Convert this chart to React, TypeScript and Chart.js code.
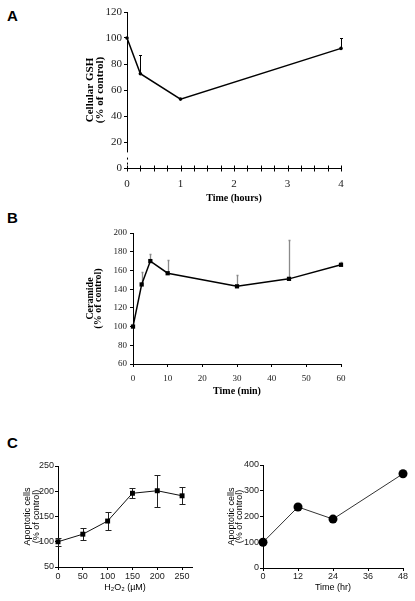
import React, { useEffect, useRef } from 'react';
import { Chart, registerables } from 'chart.js';

Chart.register(...registerables);

const SERIF = "'Liberation Serif', 'Times New Roman', Times, serif";
const SANS = "'Liberation Sans', Arial, Helvetica, sans-serif";

// ---------- Panel A: cellular GSH vs time (hours)
const aTimeHours = [0, 0.25, 1, 4];
const aGSHPercent = [100, 72.5, 53, 92];
const aGSHErrUp = [0, 14.5, 0, 8];
const aXTickValues = [0, 0.25, 0.5, 0.75, 1, 1.25, 1.5, 1.75, 2, 2.25, 2.5, 2.75, 3, 3.25, 3.5, 3.75, 4];
const aYTickValues = [0, 20, 40, 60, 80, 100, 120];

// ---------- Panel B: ceramide vs time (min)
const bTimeMin = [0, 2.5, 5, 10, 30, 45, 60];
const bCeramidePercent = [100, 145, 170, 157, 143, 151, 166];
const bCeramideErrUp = [0, 13.5, 8, 14, 12, 42, 3];
const bXTickValues = [0, 10, 20, 30, 40, 50, 60];
const bYTickValues = [60, 80, 100, 120, 140, 160, 180, 200];

// ---------- Panel C (left): apoptotic cells vs H2O2 dose
const cDoseMicroM = [0, 50, 100, 150, 200, 250];
const cDoseApoptotic = [100, 115, 141, 196, 201, 191];
const cDoseErr = [8, 12.5, 18, 10, 32, 17];
const cDoseXTicks = [0, 50, 100, 150, 200, 250];
const cDoseYTicks = [50, 100, 150, 200, 250];

// ---------- Panel C (right): apoptotic cells vs time (hr)
const cTimeHr = [0, 12, 24, 48];
const cTimeApoptotic = [100, 237, 190, 366];
const cTimeXTicks = [0, 12, 24, 36, 48];
const cTimeYTicks = [0, 100, 200, 300, 400];

const errorBarsPlugin = {
  id: 'errorBars',
  beforeDatasetsDraw(chart: any, _args: any, opts: any) {
    if (!opts || !opts.up) return;
    const { ctx } = chart;
    const xs = chart.scales.x;
    const ys = chart.scales.y;
    const data = chart.data.datasets[0].data;
    ctx.save();
    ctx.strokeStyle = opts.color || '#000';
    ctx.lineWidth = opts.width || 1;
    data.forEach((pt: any, i: number) => {
      const up = opts.up[i] || 0;
      const down = opts.down ? opts.down[i] || 0 : 0;
      if (!up && !down) return;
      const px = Math.round(xs.getPixelForValue(pt.x)) + 0.5;
      const yTop = Math.round(ys.getPixelForValue(pt.y + up)) + 0.5;
      const yBot = Math.round(ys.getPixelForValue(pt.y - down)) + 0.5;
      const cap = opts.cap || 0;
      ctx.beginPath();
      ctx.moveTo(px, yBot);
      ctx.lineTo(px, yTop);
      if (up && cap) {
        ctx.moveTo(px - cap, yTop);
        ctx.lineTo(px + cap, yTop);
      }
      if (down && cap) {
        ctx.moveTo(px - cap, yBot);
        ctx.lineTo(px + cap, yBot);
      }
      ctx.stroke();
    });
    ctx.restore();
  },
};

const brokenAxisPlugin = {
  id: 'brokenAxis',
  afterDraw(chart: any, _args: any, opts: any) {
    if (!opts || !opts.enabled) return;
    const { ctx, chartArea } = chart;
    const xs = chart.scales.x;
    const ys = chart.scales.y;
    const ax = Math.round(chartArea.left) + 0.5;
    ctx.save();
    ctx.strokeStyle = '#000';
    ctx.lineWidth = 1;
    ctx.beginPath();
    ctx.moveTo(ax, ys.getPixelForValue(ys.max));
    ctx.lineTo(ax, ys.getPixelForValue(opts.breakFrom));
    ctx.stroke();
    ctx.setLineDash([2, 3]);
    ctx.beginPath();
    ctx.moveTo(ax, ys.getPixelForValue(opts.breakTo));
    ctx.lineTo(ax, ys.getPixelForValue(ys.min));
    ctx.stroke();
    ctx.setLineDash([]);
    const by = Math.round(chartArea.bottom) + 0.5;
    ctx.beginPath();
    (opts.ticks || []).forEach((v: number) => {
      const px = Math.round(xs.getPixelForValue(v)) + 0.5;
      ctx.moveTo(px, by - 3);
      ctx.lineTo(px, by + 3);
    });
    ctx.stroke();
    ctx.restore();
  },
};

Chart.register(errorBarsPlugin as any, brokenAxisPlugin as any);

const fixedTicks = (values: number[]) => (scale: any) => {
  scale.ticks = values.map((v) => ({ value: v }));
};

function axis(opts: any) {
  const {
    min, max, tickValues, size, family, tickSize, tickPad, tickLen, title, titleSize, titleBold,
    titlePad, titleLineHeight, labelCb, isX, showBorder = true, drawTicks = true,
  } = opts;
  return {
    type: 'linear',
    min,
    max,
    afterBuildTicks: fixedTicks(tickValues),
    afterFit: (s: any) => {
      if (isX) s.height = size;
      else s.width = size;
    },
    ticks: {
      autoSkip: false,
      maxRotation: 0,
      minRotation: 0,
      padding: tickPad,
      color: '#1a1a1a',
      font: { family, size: tickSize },
      callback: labelCb || ((v: any) => String(v)),
    },
    grid: {
      display: true,
      drawOnChartArea: false,
      drawTicks,
      tickLength: tickLen,
      color: '#000',
      lineWidth: 1,
    },
    border: { display: showBorder, color: '#000', width: 1 },
    title: {
      display: true,
      text: title,
      color: '#000',
      font: { family, size: titleSize, weight: titleBold ? 'bold' : 'normal', lineHeight: titleLineHeight || 1.2 },
      padding: titlePad,
    },
  };
}

function baseOptions(padding: any, plugins: any, scales: any) {
  return {
    responsive: false,
    maintainAspectRatio: false,
    animation: false,
    events: [],
    layout: { padding },
    plugins: {
      legend: { display: false },
      tooltip: { enabled: false },
      ...plugins,
    },
    scales,
  };
}

function configA() {
  return {
    type: 'line',
    data: {
      datasets: [
        {
          data: aTimeHours.map((x, i) => ({ x, y: aGSHPercent[i] })),
          borderColor: '#000',
          borderWidth: 1.5,
          pointRadius: 1.8,
          pointStyle: 'circle',
          pointBackgroundColor: '#000',
          pointBorderWidth: 0,
          tension: 0,
          clip: false,
        },
      ],
    },
    options: baseOptions(
      { left: 0, right: 29, top: 12, bottom: 0 },
      {
        errorBars: { up: aGSHErrUp, color: '#000', width: 1, cap: 1.5 },
        brokenAxis: { enabled: true, breakFrom: 12, breakTo: 8, ticks: aXTickValues },
      },
      {
        x: axis({
          isX: true, min: 0, max: 4, tickValues: aXTickValues, size: 38, family: SERIF, tickSize: 11,
          tickPad: 10, tickLen: 3, drawTicks: false, title: 'Time (hours)', titleSize: 10, titleBold: true,
          titlePad: { top: 0, bottom: 2 },
          labelCb: (v: any) => (Number.isInteger(v) ? String(v) : ''),
        }),
        y: axis({
          isX: false, min: 0, max: 120, tickValues: aYTickValues, size: 127, family: SERIF, tickSize: 11,
          tickPad: 2, tickLen: 3, title: ['Cellular GSH', '(% of control)'], titleSize: 11, titleBold: true,
          titleLineHeight: 0.9, titlePad: { top: 85, bottom: 0 }, showBorder: false,
        }),
      }
    ),
  };
}

function configB() {
  return {
    type: 'line',
    data: {
      datasets: [
        {
          data: bTimeMin.map((x, i) => ({ x, y: bCeramidePercent[i] })),
          borderColor: '#000',
          borderWidth: 1.5,
          pointRadius: 3,
          pointStyle: 'rect',
          pointBackgroundColor: '#000',
          pointBorderWidth: 0,
          tension: 0,
          clip: false,
        },
      ],
    },
    options: baseOptions(
      { left: 0, right: 29, top: 27, bottom: 0 },
      { errorBars: { up: bCeramideErrUp, color: '#8a8a8a', width: 1.3, cap: 1 } },
      {
        x: axis({
          isX: true, min: 0, max: 60, tickValues: bXTickValues, size: 38, family: SERIF, tickSize: 9,
          tickPad: 6, tickLen: 3, title: 'Time (min)', titleSize: 10, titleBold: true,
          titlePad: { top: 0, bottom: 5 },
        }),
        y: axis({
          isX: false, min: 60, max: 200, tickValues: bYTickValues, size: 133, family: SERIF, tickSize: 9,
          tickPad: 3, tickLen: 3, title: ['Ceramide', '(% of control)'], titleSize: 10, titleBold: true,
          titleLineHeight: 0.85, titlePad: { top: 85.75, bottom: 0 },
        }),
      }
    ),
  };
}

function configCDose() {
  return {
    type: 'line',
    data: {
      datasets: [
        {
          data: cDoseMicroM.map((x, i) => ({ x, y: cDoseApoptotic[i] })),
          borderColor: '#111',
          borderWidth: 1,
          pointRadius: 3.5,
          pointStyle: 'rect',
          pointBackgroundColor: '#000',
          pointBorderWidth: 0,
          tension: 0,
          clip: false,
        },
      ],
    },
    options: baseOptions(
      { left: 0, right: 13, top: 64, bottom: 0 },
      { errorBars: { up: cDoseErr, down: cDoseErr, color: '#222', width: 1, cap: 3 } },
      {
        x: axis({
          isX: true, min: 0, max: 270, tickValues: cDoseXTicks, size: 34, family: SANS, tickSize: 9,
          tickPad: 1, tickLen: 3, title: 'H\u2082O\u2082 (\u00b5M)', titleSize: 9, titleBold: false,
          titlePad: { top: 0, bottom: 8.5 },
        }),
        y: axis({
          isX: false, min: 50, max: 250, tickValues: cDoseYTicks, size: 58, family: SANS, tickSize: 9,
          tickPad: 1, tickLen: 3, title: ['Apoptotic cells', '(% of control)'], titleSize: 9, titleBold: false,
          titleLineHeight: 1, titlePad: { top: 23.5, bottom: 0 },
        }),
      }
    ),
  };
}

function configCTime() {
  return {
    type: 'line',
    data: {
      datasets: [
        {
          data: cTimeHr.map((x, i) => ({ x, y: cTimeApoptotic[i] })),
          borderColor: '#333',
          borderWidth: 1,
          pointRadius: 4.5,
          pointStyle: 'circle',
          pointBackgroundColor: '#000',
          pointBorderWidth: 0,
          tension: 0,
          clip: false,
        },
      ],
    },
    options: baseOptions(
      { left: 0, right: 12, top: 63, bottom: 0 },
      {},
      {
        x: axis({
          isX: true, min: 0, max: 48, tickValues: cTimeXTicks, size: 33, family: SANS, tickSize: 9,
          tickPad: 0, tickLen: 3, title: 'Time (hr)', titleSize: 9, titleBold: false,
          titlePad: { top: 0, bottom: 8.5 },
        }),
        y: axis({
          isX: false, min: 0, max: 400, tickValues: cTimeYTicks, size: 58, family: SANS, tickSize: 9,
          tickPad: 1, tickLen: 3, title: ['Apoptotic cells', '(% of control)'], titleSize: 9, titleBold: false,
          titleLineHeight: 0.9, titlePad: { top: 22.5, bottom: 0 },
        }),
      }
    ),
  };
}

function ChartCanvas({ left, top, width, height, make }: any) {
  const ref = useRef<HTMLCanvasElement | null>(null);
  useEffect(() => {
    if (!ref.current) return;
    const chart = new Chart(ref.current, make() as any);
    return () => chart.destroy();
  }, [make]);
  return (
    <canvas
      ref={ref}
      width={width}
      height={height}
      style={{ position: 'absolute', left, top, width, height, display: 'block' }}
    />
  );
}

const panelLabel = (text: string, left: number, top: number) => (
  <div
    style={{
      position: 'absolute',
      left,
      top,
      font: `bold 15px ${SANS}`,
      lineHeight: '15px',
      color: '#000',
    }}
  >
    {text}
  </div>
);

export default function App() {
  return (
    <div
      style={{
        position: 'absolute',
        left: 0,
        top: 0,
        width: 415,
        height: 601,
        background: '#fff',
        overflow: 'hidden',
      }}
    >
      {panelLabel('A', 7, 8)}
      {panelLabel('B', 7, 210)}
      {panelLabel('C', 7, 435)}
      <ChartCanvas left={0} top={0} width={370} height={206} make={configA} />
      <ChartCanvas left={0} top={206} width={370} height={196} make={configB} />
      <ChartCanvas left={0} top={402} width={205} height={199} make={configCDose} />
      <ChartCanvas left={205} top={402} width={210} height={199} make={configCTime} />
    </div>
  );
}
